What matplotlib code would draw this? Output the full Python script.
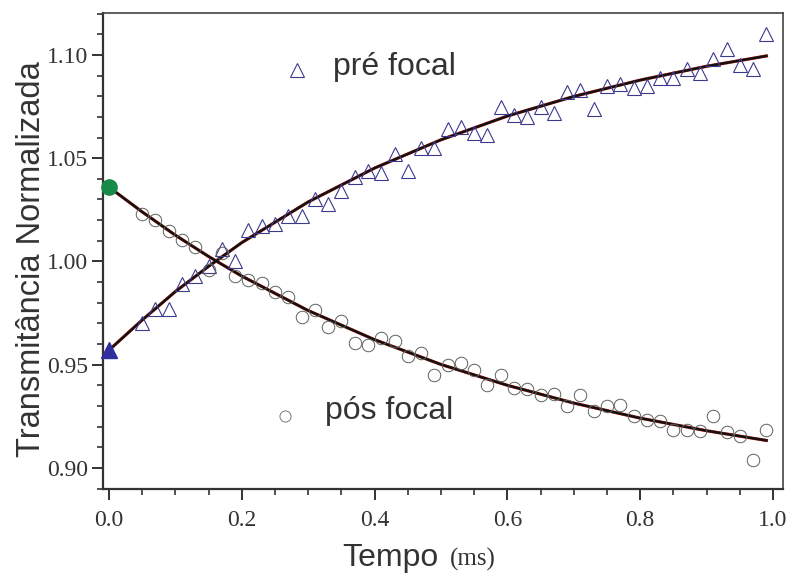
import numpy as np
import matplotlib
matplotlib.use("Agg")
import matplotlib.pyplot as plt
from matplotlib.ticker import MultipleLocator

# pre-focal transmittance (triangles)
t_pre = [0.05, 0.07, 0.09, 0.11, 0.13, 0.15, 0.17, 0.19, 0.21, 0.23, 0.25, 0.27,
         0.29, 0.31, 0.33, 0.35, 0.37, 0.39, 0.41, 0.43, 0.45, 0.47, 0.49, 0.51,
         0.53, 0.55, 0.57, 0.59, 0.61, 0.63, 0.65, 0.67, 0.69, 0.71, 0.73, 0.75,
         0.77, 0.79, 0.81, 0.83, 0.85, 0.87, 0.89, 0.91, 0.93, 0.95, 0.97, 0.99]
T_pre = [0.970, 0.977, 0.977, 0.989, 0.993, 0.998, 1.006, 1.000, 1.015, 1.017, 1.018, 1.022,
         1.022, 1.030, 1.028, 1.034, 1.041, 1.044, 1.043, 1.052, 1.044, 1.055, 1.055, 1.064,
         1.065, 1.062, 1.061, 1.075, 1.071, 1.070, 1.075, 1.072, 1.082, 1.083, 1.074, 1.085,
         1.086, 1.084, 1.085, 1.089, 1.089, 1.093, 1.091, 1.098, 1.103, 1.095, 1.093, 1.110]

# post-focal transmittance (circles)
t_pos = t_pre
T_pos = [1.023, 1.020, 1.0145, 1.0105, 1.007, 0.996, 1.004, 0.993, 0.991, 0.9895, 0.985, 0.983,
         0.973, 0.9766, 0.968, 0.971, 0.9605, 0.9596, 0.963, 0.9615, 0.954, 0.9556, 0.945, 0.950,
         0.951, 0.9475, 0.940, 0.945, 0.9387, 0.938, 0.9354, 0.936, 0.930, 0.9354, 0.9274, 0.930,
         0.9306, 0.925, 0.9233, 0.9225, 0.9185, 0.9185, 0.9177, 0.925, 0.9172, 0.9153, 0.904, 0.9185]

# starting values at t = 0
T0_pre = 0.957
T0_pos = 1.036

# fitted curves
t_fit = [0.0, 0.05, 0.1, 0.15, 0.2, 0.3, 0.4, 0.5, 0.6, 0.7, 0.8, 0.9, 0.99]
fit_pre = [0.957, 0.9716, 0.9854, 0.9976, 1.0091, 1.0288, 1.0452, 1.0589, 1.0704,
           1.0799, 1.0878, 1.0945, 1.0995]
fit_pos = [1.036, 1.0240, 1.0127, 1.0024, 0.9929, 0.9762, 0.9621, 0.9501, 0.9400,
           0.9314, 0.9241, 0.9180, 0.9133]

xticks = [0.0, 0.2, 0.4, 0.6, 0.8, 1.0]
yticks = [0.90, 0.95, 1.00, 1.05, 1.10]

plt.rcParams['font.family'] = ['Liberation Sans', 'DejaVu Sans']

fig = plt.figure(figsize=(7.89, 5.75), dpi=100)
ax = fig.add_axes([0.1305, 0.1496, 0.8619, 0.8278])

navy = '#3a3a8e'
grey = '#5a625e'

ax.plot(t_fit, fit_pre, color='#d42a1e', lw=2.3, zorder=2)
ax.plot(t_fit, fit_pos, color='#d42a1e', lw=2.3, zorder=2)
ax.plot(t_fit, fit_pre, color='#111111', lw=1.8, zorder=3)
ax.plot(t_fit, fit_pos, color='#111111', lw=1.8, zorder=3)

ax.plot(t_pre, T_pre, ls='none', marker='^', ms=9.5, mfc='none', mec=navy, mew=0.8, zorder=4)
ax.plot(t_pos, T_pos, ls='none', marker='o', ms=9, mfc='none', mec=grey, mew=0.7, zorder=4)

ax.plot([0.0], [T0_pre], ls='none', marker='^', ms=11, color='#2e2e9c', clip_on=False, zorder=5)
ax.plot([0.0], [T0_pos], ls='none', marker='o', ms=11, color='#178a48', clip_on=False, zorder=5)

# in-plot labels
ax.plot([0.2827], [1.0927], ls='none', marker='^', ms=9.5, mfc='none', mec=navy, mew=0.8)
ax.text(0.337, 1.094, 'pré focal', fontsize=23, color='#333333', va='center', ha='left')
ax.plot([0.265], [0.925], ls='none', marker='o', ms=8, mfc='none', mec='#777777', mew=0.7)
ax.text(0.325, 0.9274, 'pós focal', fontsize=23, color='#333333', va='center', ha='left')

ax.set_xlim(-0.009, 1.015)
ax.set_ylim(0.8898, 1.1203)
ax.set_xticks(xticks)
ax.set_yticks(yticks)
ax.set_xticklabels(['%.1f' % v for v in xticks])
ax.set_yticklabels(['%.2f' % v for v in yticks])
ax.xaxis.set_minor_locator(MultipleLocator(0.05))
ax.yaxis.set_minor_locator(MultipleLocator(0.01))

for lab in ax.get_xticklabels() + ax.get_yticklabels():
    lab.set_family('Liberation Serif')
    lab.set_fontsize(17)
    lab.set_color('#333333')

ax.tick_params(which='major', direction='out', length=8, width=1.4, color='#333333')
ax.tick_params(which='minor', direction='out', length=4.5, width=1.2, color='#333333')
ax.tick_params(axis='x', which='major', pad=7)
ax.tick_params(axis='y', which='major', pad=3)
ax.tick_params(top=False, right=False)

for side in ['left', 'bottom']:
    ax.spines[side].set_linewidth(1.6)
    ax.spines[side].set_color('#333333')
for side in ['top', 'right']:
    ax.spines[side].set_linewidth(1.2)
    ax.spines[side].set_color('#444444')

ax.set_ylabel('Transmitância Normalizada', fontsize=23.5, color='#333333')
ax.yaxis.set_label_coords(-0.083, 0.483)

# axis title: sans "Tempo" followed by serif "(ms)"
fig.text(342 / 789, 1 - 566 / 575, 'Tempo', fontsize=23, color='#333333', va='baseline', ha='left')
fig.text(450 / 789, 1 - 566 / 575, '(ms)', fontsize=18, color='#333333', va='baseline', ha='left',
         family='Liberation Serif')

fig.savefig('out.png', dpi=100)
